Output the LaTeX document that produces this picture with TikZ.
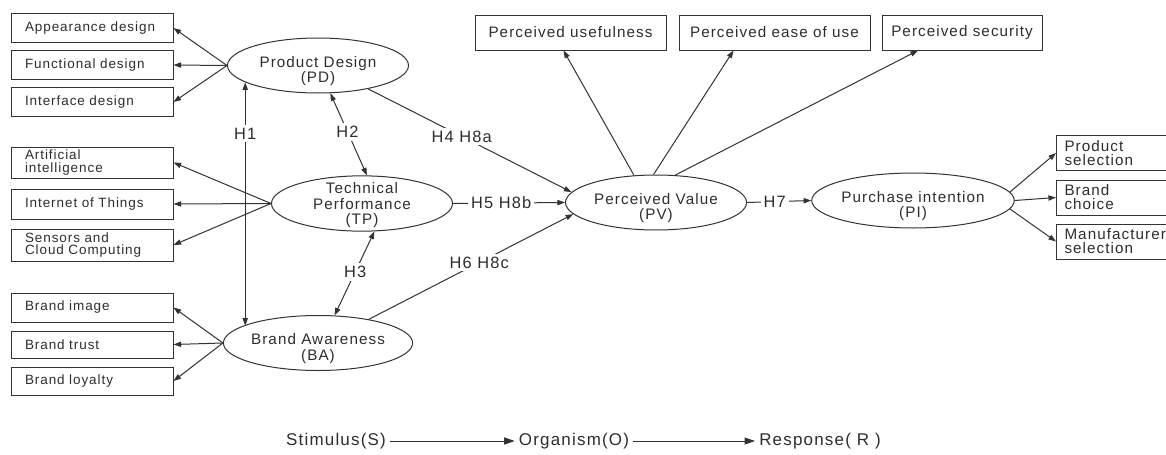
\documentclass[tikz,border=0pt]{standalone}
\usepackage{fontspec}
\setmainfont[LetterSpace=7]{Liberation Sans}
\usetikzlibrary{shapes.geometric,arrows.meta}

\newlength{\du}
\setlength{\du}{0.853600pt}
\definecolor{dialinecolor}{rgb}{0.200000, 0.200000, 0.200000}
\definecolor{diatextcolor}{rgb}{0.180000, 0.180000, 0.180000}
% ellipse text sits a little low in its ellipse
\newcommand{\lowtext}[2][6]{\raisebox{-#1\du}[\height][\depth]{\begin{tabular}{@{}c@{}}#2\end{tabular}}}

\tikzset{
  itembox/.style={draw=dialinecolor, line width=1\du, rectangle, text=diatextcolor,
    inner xsep=14\du, inner ysep=0pt, text width=134\du, align=left,
    minimum height=29\du, font=\fontsize{11.5}{10.4}\selectfont},
  topbox/.style={draw=dialinecolor, line width=1\du, rectangle, text=diatextcolor,
    inner sep=0pt, minimum height=35\du, font=\fontsize{13}{13}\selectfont},
  sidebox/.style={draw=dialinecolor, line width=1\du, rectangle, text=diatextcolor,
    anchor=west, inner xsep=8\du, inner ysep=0pt, text width=120\du, align=left,
    minimum height=35\du, font=\fontsize{13}{12}\selectfont},
  construct/.style={draw=dialinecolor, line width=1\du, ellipse, text=diatextcolor,
    minimum width=181\du, minimum height=55\du, inner sep=0pt,
    font=\fontsize{13}{12}\selectfont},
  hlabel/.style={fill=white, text=diatextcolor, inner sep=3\du,
    font=\fontsize{14}{14}\selectfont},
  srlabel/.style={text=diatextcolor, inner xsep=4\du, font=\fontsize{14.5}{14.5}\selectfont},
  arr/.style={draw=dialinecolor, line width=1\du, -{Triangle[length=6.5pt,width=4.5pt]}},
  dblarr/.style={draw=dialinecolor, line width=1\du,
    {Triangle[length=6.5pt,width=4.5pt]}-{Triangle[length=6.5pt,width=4.5pt]}},
  bigarr/.style={draw=dialinecolor, line width=1\du, -{Triangle[length=9pt,width=6pt]}},
}

\begin{document}
\begin{tikzpicture}
\pgftransformxscale{1.000000}
\pgftransformyscale{-1.000000}
\useasboundingbox[fill=white] (0\du,0\du) rectangle (1166\du,455\du);

% constructs
\node[construct] (PD) at (318\du,65.5\du) {\lowtext{Product Design\\(PD)}};
\node[construct, inner ysep=-3\du, font=\fontsize{13}{11.4}\selectfont] (TP) at (362\du,203.5\du) {\lowtext[2]{Technical\\Performance\\(TP)}};
\node[construct] (BA) at (318\du,343\du) {\lowtext{Brand Awareness\\(BA)}};
\node[construct] (PV) at (656\du,202.5\du) {\lowtext{Perceived Value\\(PV)}};
\node[construct] (PI) at (913\du,200.5\du) {\lowtext{Purchase intention\\(PI)}};

% left indicators
\node[itembox] (app) at (92\du,28\du) {Appearance design};
\node[itembox] (func) at (92\du,65\du) {Functional design};
\node[itembox] (intf) at (92\du,102\du) {Interface design};
\node[itembox, minimum height=31\du] (ai) at (92\du,162.5\du) {Artificial\\intelligence};
\node[itembox, minimum height=30\du] (iot) at (92\du,204\du) {Internet of Things};
\node[itembox, minimum height=32\du] (sens) at (92\du,245\du) {Sensors and\\Cloud Computing};
\node[itembox] (bimg) at (92\du,307.5\du) {Brand image};
\node[itembox, minimum height=27\du] (btru) at (92\du,344.5\du) {Brand trust};
\node[itembox, minimum height=28\du] (bloy) at (92\du,381\du) {Brand loyalty};

% value indicators
\node[topbox, minimum width=191\du] (usef) at (570.5\du,32.5\du) {Perceived usefulness};
\node[topbox, minimum width=191\du] (ease) at (774.5\du,32.5\du) {Perceived ease of use};
\node[topbox, minimum width=160\du] (secu) at (962\du,32.5\du) {Perceived security};

% intention indicators
\node[sidebox] (psel) at (1056\du,153\du) {Product\\selection};
\node[sidebox] (bcho) at (1056\du,197.5\du) {Brand\\choice};
\node[sidebox] (msel) at (1056\du,241.5\du) {Manufacturer\\selection};

\draw[arr] (PD.west) -- (app.east);
\draw[arr] (PD.west) -- (func.east);
\draw[arr] (PD.west) -- (intf.east);
\draw[arr] (TP.west) -- (ai.east);
\draw[arr] (TP.west) -- (iot.east);
\draw[arr] (TP.west) -- (sens.east);
\draw[arr] (BA.west) -- (bimg.east);
\draw[arr] (BA.west) -- (btru.east);
\draw[arr] (BA.west) -- (bloy.east);

\draw[arr] (PV.129) -- ([xshift=-7\du]usef.south);
\draw[arr] (PV.95) -- ([xshift=-41\du]ease.south);
\draw[arr] (PV.55) -- ([xshift=-44\du]secu.south);

\draw[arr] (PI.5) -- (psel.west);
\draw[arr] (PI.east) -- (bcho.west);
\draw[arr] (PI.-5) -- (msel.west);

% hypotheses
\draw[dblarr] (PD.193) -- node[hlabel, pos=0.21] (h1) {H1} (PD.193 |- BA.167);
\draw[dblarr] (PD.-66) -- node[hlabel, pos=0.47] (h2) {H2} (TP.80);
\draw[dblarr] (TP.-66) -- node[hlabel, pos=0.48] (h3) {H3} (BA.59);
\draw[arr] (PD.-25) -- node[hlabel, pos=0.46] (h4) {H4 H8a} (PV.173);
\draw[arr] (TP.east) -- node[hlabel, pos=0.43] (h5) {H5 H8b} (PV.west);
\draw[arr] (BA.25) -- node[hlabel, pos=0.54] (h6) {H6 H8c} (PV.188);
\draw[arr] (PV.east) -- node[hlabel, pos=0.43] (h7) {H7} (PI.west);

% S-O-R
\node[srlabel] (stim) at (336\du,441\du) {Stimulus(S)};
\node[srlabel] (org) at (574\du,441\du) {Organism(O)};
\node[srlabel] (resp) at (820\du,441\du) {Response( R )};
\draw[bigarr] (stim.east) -- (org.west);
\draw[bigarr] (org.east) -- (resp.west);
\end{tikzpicture}
\end{document}
